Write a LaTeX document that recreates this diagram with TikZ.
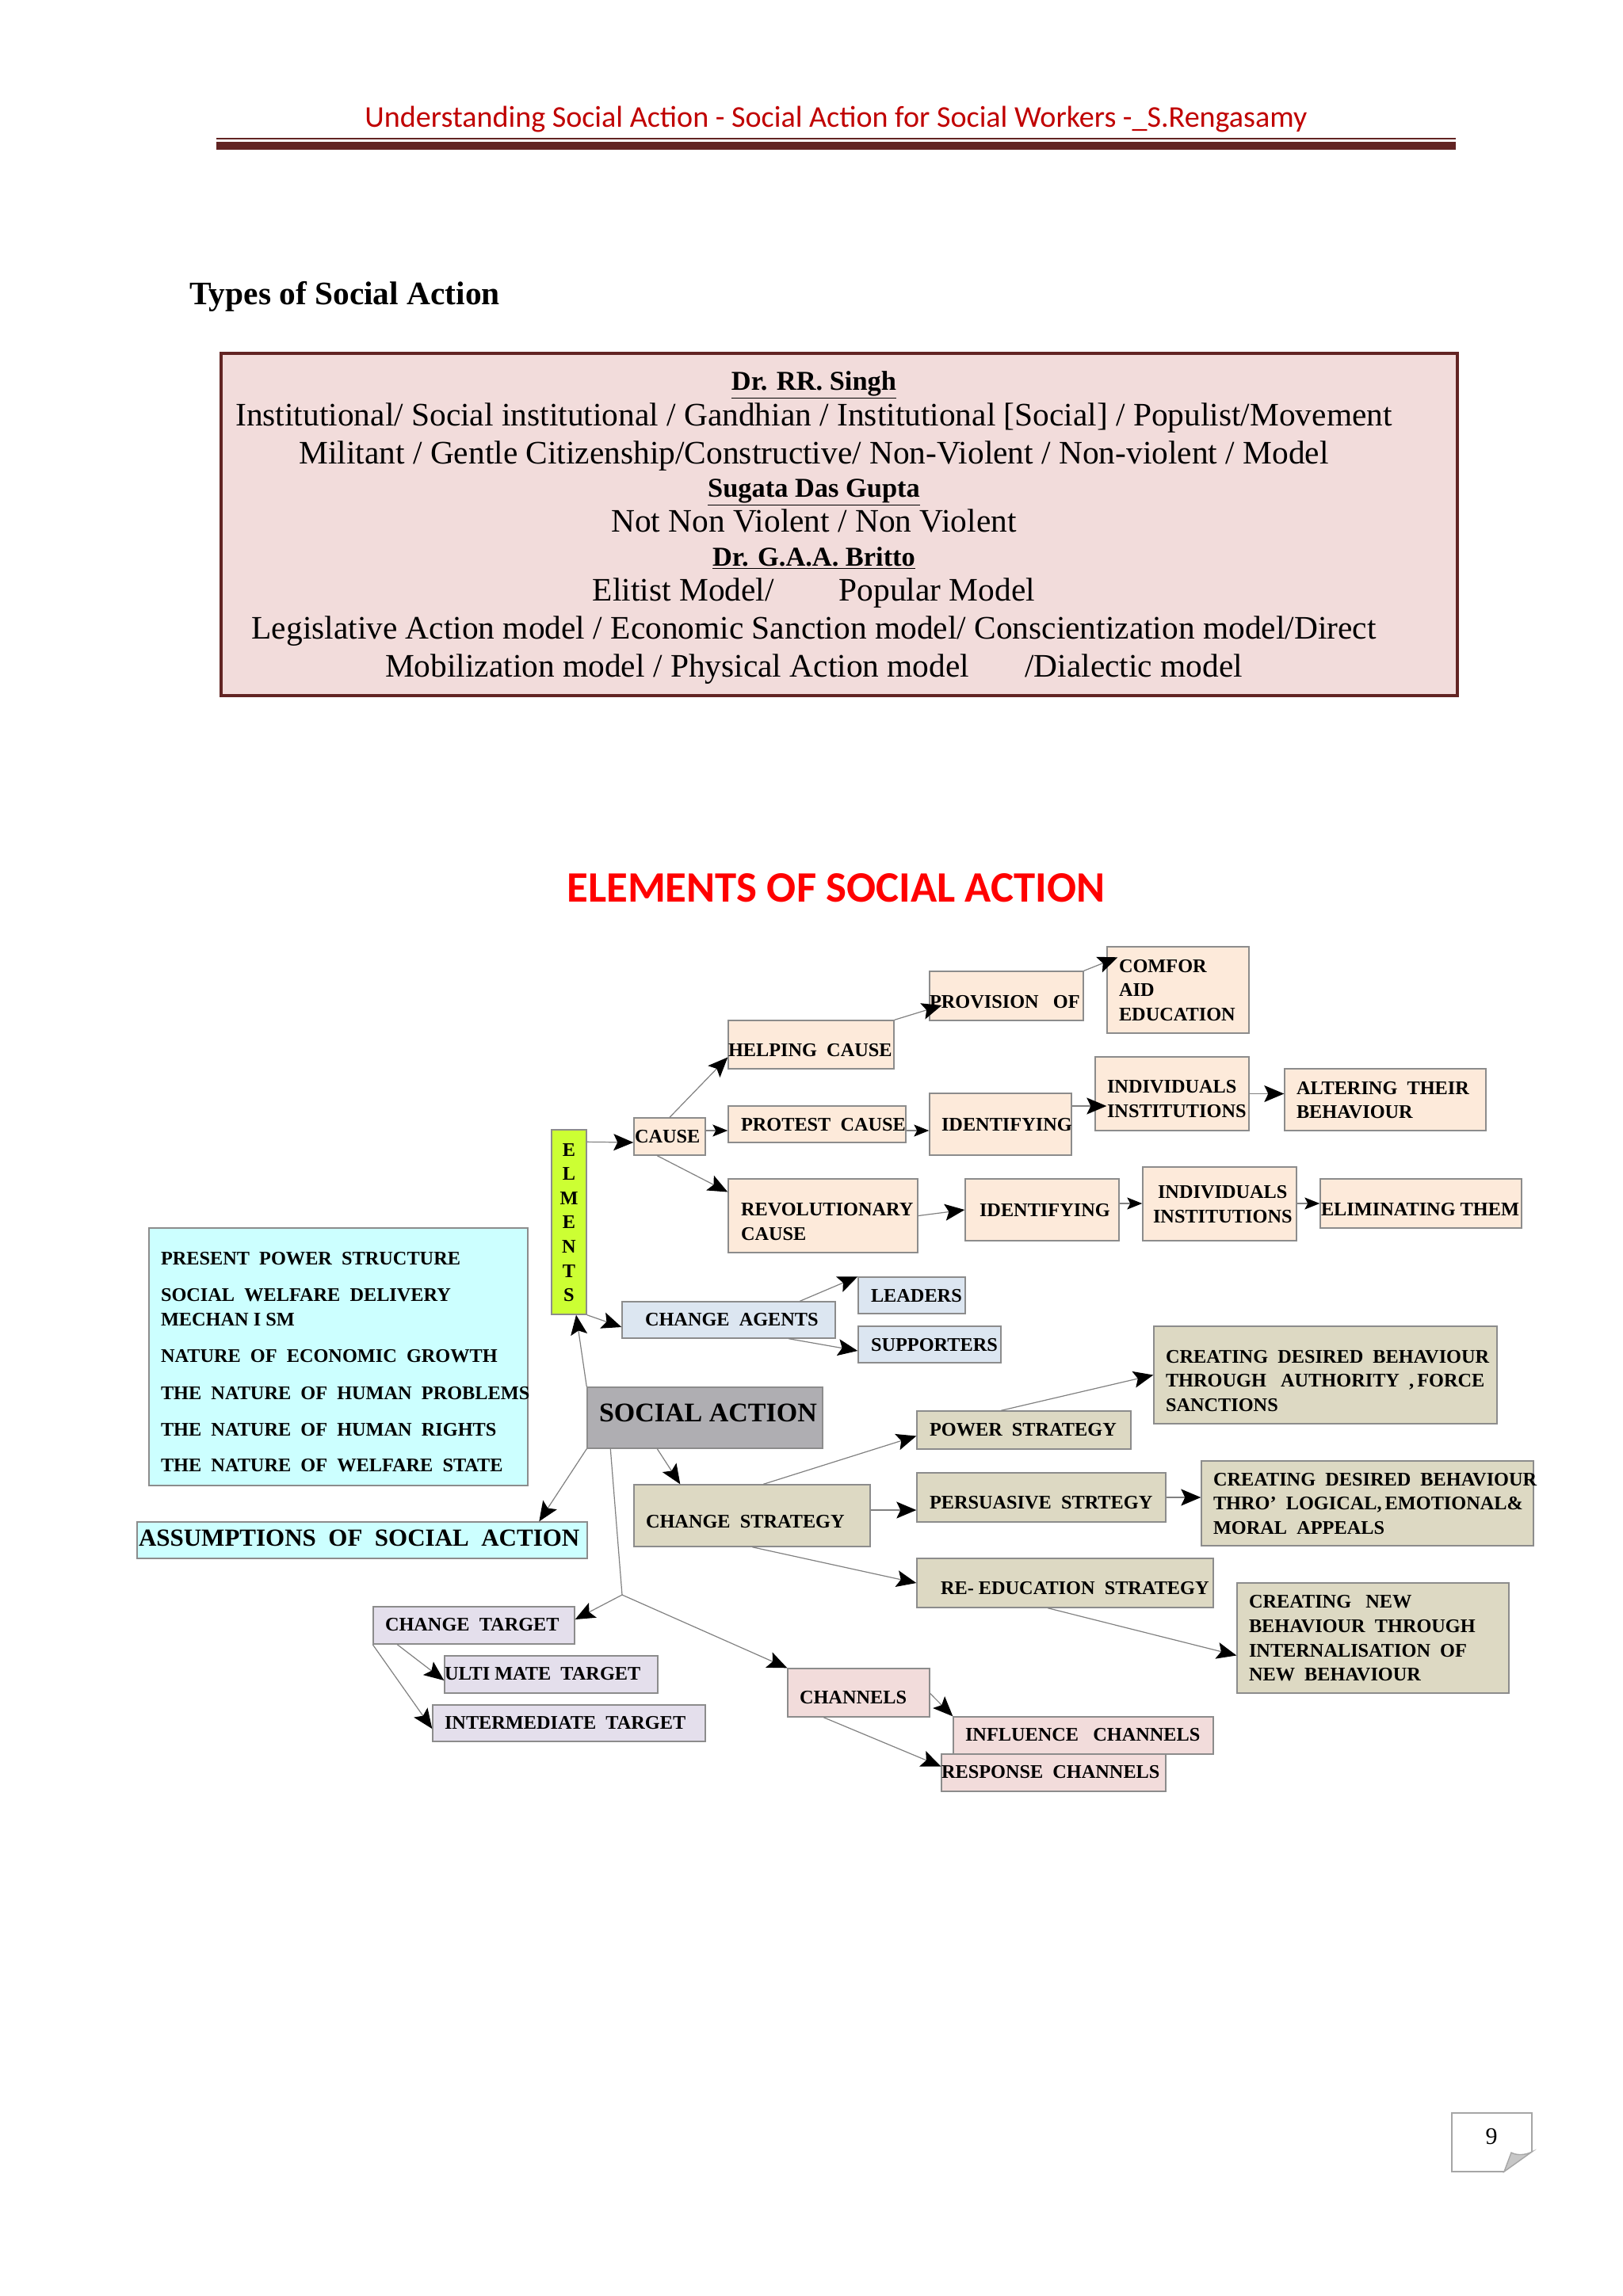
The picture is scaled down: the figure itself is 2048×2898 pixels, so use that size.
\documentclass[tikz,border=0pt]{standalone}
\usepackage{fontspec}
\setmainfont{Liberation Serif}
\newfontfamily\calib{Carlito}
\usetikzlibrary{arrows.meta}
\definecolor{maroon}{HTML}{622423}
\definecolor{hdrred}{HTML}{C00000}
\definecolor{pinkbg}{HTML}{F2DCDB}
\definecolor{peach}{HTML}{FDEADA}
\definecolor{paleblue}{HTML}{DCE6F1}
\definecolor{olive}{HTML}{DDD9C3}
\definecolor{cyanbg}{HTML}{CCFFFF}
\definecolor{lilac}{HTML}{E4DFEC}
\definecolor{greybox}{HTML}{AFAEB2}
\definecolor{lime}{HTML}{CCFF33}
\definecolor{edgeline}{HTML}{808080}
\definecolor{boxline}{HTML}{8C8C8C}
\tikzset{
  sbox/.style={draw=boxline,line width=.7pt,inner sep=0pt,text=black,font=\fontsize{12.15}{15.3}\selectfont\bfseries},
  conn/.style={draw=edgeline,line width=.6pt,-{Stealth[length=12.5pt,width=10.5pt,inset=2.5pt,black]}},
  shortconn/.style={draw=edgeline,line width=.6pt,-{Stealth[length=9.5pt,width=7.5pt,inset=2pt,black]}},
  plainconn/.style={draw=edgeline,line width=.6pt},
  headtext/.style={anchor=base,inner sep=0pt,font=\fontsize{17.2}{21}\selectfont\bfseries},
  bodytext/.style={anchor=base,inner sep=0pt,font=\fontsize{20.7}{25}\selectfont},
}
% name x1 y1 x2 y2 fill inset dy text
\newcommand\bx[9]{%
  \pgfmathsetmacro\bw{(#4-#2)*0.5}%
  \pgfmathsetmacro\bh{(#5-#3)*0.5}%
  \pgfmathsetmacro\bi{(#7)*0.5}%
  \pgfmathsetmacro\br{-4.1-(#8)*0.5}%
  \node[sbox,fill=#6,minimum width=\bw pt,minimum height=\bh pt] (#1) at ({(#2+#4)/2},{(#3+#5)/2})
    {\makebox[\bw pt][l]{\hspace{\bi pt}\raisebox{\br pt}[0pt][0pt]{\begin{tabular}{@{}l@{}}#9\end{tabular}}}};%
}
\newcommand\wg{\hspace{.5em}}
\newcommand\vl[1]{\makebox[12pt]{#1}}
\begin{document}
\begin{tikzpicture}[x=0.5pt,y=-0.5pt]
\useasboundingbox (0,0) rectangle (2048,2898);
\fill[white] (0,0) rectangle (2048,2898);
% header
\node[anchor=base,inner sep=0pt,text=hdrred,font=\calib\fontsize{19.05}{24}\selectfont] (hdr) at (1055,160) {Understanding Social Action - Social Action for Social Workers -\_S.Rengasamy};
\fill[maroon] (273,174) rectangle (1837,176);
\fill[maroon] (273,178.5) rectangle (1837,189);
\node[anchor=base west,inner sep=0pt,font=\fontsize{20.7}{26}\selectfont\bfseries] (types) at (239,384) {Types of Social Action};
% top box
\node[draw=maroon,line width=2pt,fill=pinkbg,minimum width=780pt,minimum height=216pt,inner sep=0pt] (topbox) at (1058.5,662) {};
\node[headtext] (t1) at (1027,492) {\underline{Dr. RR. Singh}};
\node[bodytext] (t2) at (1027,537) {Institutional/ Social institutional / Gandhian / Institutional [Social] / Populist/Movement};
\node[bodytext] (t3) at (1027,585) {Militant / Gentle Citizenship/Constructive/ Non-Violent / Non-violent / Model};
\node[headtext] (t4) at (1027,627) {\underline{Sugata Das Gupta}};
\node[bodytext] (t5) at (1027,671) {Not Non Violent / Non Violent};
\node[headtext] (t6) at (1027,714) {\underline{Dr. G.A.A. Britto}};
\node[bodytext] (t7) at (1027,758) {Elitist Model/\hspace{41pt}Popular Model};
\node[bodytext] (t8) at (1027,806) {Legislative Action model / Economic Sanction model/ Conscientization model/Direct};
\node[bodytext] (t9) at (1027,854) {Mobilization model / Physical Action model\hspace{35pt}/Dialectic model};
% title
\node[anchor=base,inner sep=0pt,text=red,font=\calib\bfseries\fontsize{27.4}{32}\selectfont] (title) at (1055,1138) {ELEMENTS OF SOCIAL ACTION};
% boxes
\bx{elem}{696}{1426}{740}{1659}{lime}{10}{0}{\vl{E}\\\vl{L}\\\vl{M}\\\vl{E}\\\vl{N}\\\vl{T}\\\vl{S}}
\bx{cause}{800}{1411}{890}{1458}{peach}{1}{0}{CAUSE}
\bx{helping}{919}{1288}{1128}{1349}{peach}{0}{7}{HELPING\wg CAUSE}
\bx{prov}{1173}{1226}{1367}{1288}{peach}{0}{7}{PROVISION\wg\ OF}
\bx{comfor}{1397}{1195}{1576}{1304}{peach}{15}{0}{COMFOR\\AID\\EDUCATION}
\bx{protest}{919}{1396}{1143}{1442}{peach}{16}{0}{PROTEST\wg CAUSE}
\bx{identa}{1173}{1380}{1352}{1458}{peach}{15}{0}{IDENTIFYING}
\bx{indiva}{1382}{1334}{1576}{1427}{peach}{15}{6}{INDIVIDUALS\\INSTITUTIONS}
\bx{altering}{1621}{1349}{1875}{1427}{peach}{15}{0}{ALTERING\wg THEIR\\BEHAVIOUR}
\bx{revol}{919}{1488}{1158}{1581}{peach}{16}{7}{REVOLUTIONARY\\CAUSE}
\bx{identb}{1218}{1488}{1412}{1566}{peach}{18}{0}{IDENTIFYING}
\bx{indivb}{1442}{1473}{1636}{1566}{peach}{13}{0}{\hspace{3pt}INDIVIDUALS\\INSTITUTIONS}
\bx{elim}{1666}{1488}{1920}{1550}{peach}{1}{7}{ELIMINATING THEM}
\bx{agents}{785}{1643}{1054}{1689}{paleblue}{29}{-1}{CHANGE\wg AGENTS}
\bx{leaders}{1083}{1612}{1218}{1658}{paleblue}{16}{0}{LEADERS}
\bx{supp}{1083}{1674}{1263}{1720}{paleblue}{16}{0}{SUPPORTERS}
\bx{assumplist}{188}{1550}{666}{1875}{cyanbg}{15}{6}{PRESENT\wg POWER\wg STRUCTURE\\[7.7pt]SOCIAL\wg WELFARE\wg DELIVERY\\MECHAN I SM\\[8pt]NATURE\wg OF\wg ECONOMIC\wg GROWTH\\[8pt]THE\wg NATURE\wg OF\wg HUMAN\wg PROBLEMS\\[7.7pt]THE\wg NATURE\wg OF\wg HUMAN\wg RIGHTS\\[7pt]THE\wg NATURE\wg OF\wg WELFARE\wg STATE}
\bx{social}{741}{1751}{1038}{1828}{greybox}{15}{-4}{\fontsize{17}{20}\selectfont SOCIAL ACTION}
\bx{strategy}{800}{1874}{1098}{1952}{olive}{15}{7}{CHANGE\wg STRATEGY}
\bx{assump}{173}{1921}{741}{1967}{cyanbg}{2}{-1}{\fontsize{15.5}{18}\selectfont ASSUMPTIONS\wg OF\wg SOCIAL\wg ACTION}
\bx{target}{471}{2028}{725}{2075}{lilac}{15}{-1}{CHANGE\wg TARGET}
\bx{ultimate}{561}{2090}{830}{2137}{lilac}{0}{-1}{ULTI MATE\wg TARGET}
\bx{inter}{546}{2152}{890}{2198}{lilac}{15}{-1}{INTERMEDIATE\wg TARGET}
\bx{channels}{994}{2106}{1173}{2167}{pinkbg}{15}{6}{CHANNELS}
\bx{power}{1157}{1781}{1427}{1829}{olive}{16}{-1}{POWER\wg STRATEGY}
\bx{persu}{1157}{1859}{1471}{1921}{olive}{16}{6}{PERSUASIVE\wg STRTEGY}
\bx{reed}{1157}{1967}{1531}{2029}{olive}{30}{6}{RE- EDUCATION\wg STRATEGY}
\bx{creata}{1456}{1674}{1889}{1797}{olive}{15}{7}{CREATING\wg DESIRED\wg BEHAVIOUR\\THROUGH\wg\ AUTHORITY\wg ,\,FORCE\\SANCTIONS}
\bx{creatb}{1516}{1844}{1935}{1951}{olive}{15}{0}{CREATING\wg DESIRED\wg BEHAVIOUR\\THRO’\wg LOGICAL,\,EMOTIONAL\&\\MORAL\wg APPEALS}
\bx{creatc}{1561}{1998}{1904}{2137}{olive}{15}{0}{CREATING\wg\ NEW\\BEHAVIOUR\wg THROUGH\\INTERNALISATION\wg OF\\NEW\wg BEHAVIOUR}
\bx{influence}{1203}{2167}{1531}{2214}{pinkbg}{15}{-1}{INFLUENCE\wg\ CHANNELS}
\bx{response}{1188}{2214}{1471}{2261}{pinkbg}{0}{-1}{RESPONSE\wg CHANNELS}
% connectors
\coordinate (junction) at (785,2013);
\draw[conn] ([shift={(0,16)}]elem.north east) -- ([shift={(0,7.5)}]cause.west);
\draw[conn] (cause.north) -- ([shift={(0,16)}]helping.west);
\draw[shortconn] ([shift={(0,-7.5)}]cause.east) -- ([shift={(0,8)}]protest.west);
\draw[conn] ([shift={(30,0)}]cause.south west) -- ([shift={(0,-30)}]revol.west);
\draw[conn] (helping.north east) -- ([shift={(16,12)}]prov.west);
\draw[conn] (prov.north east) -- ([shift={(14,14)}]comfor.north west);
\draw[shortconn] ([shift={(0,8)}]protest.east) -- ([shift={(0,8)}]identa.west);
\draw[conn] ([shift={(0,-23)}]identa.east) -- ([shift={(15,15.5)}]indiva.west);
\draw[conn] (indiva.east) -- ([shift={(0,-7.5)}]altering.west);
\draw[conn] (revol.east) -- (identb.west);
\draw[shortconn] ([shift={(0,-8)}]identb.east) -- ([shift={(0,-0.5)}]indivb.west);
\draw[shortconn] ([shift={(0,-0.5)}]indivb.east) -- (elim.west);
\draw[conn] (elem.south east) -- ([shift={(0,9)}]agents.west);
\draw[conn] ([shift={(225,0)}]agents.north west) -- (leaders.north west);
\draw[conn] ([shift={(211,0)}]agents.south west) -- ([shift={(0,8)}]supp.west);
\draw[conn] (social.north west) -- ([shift={(9,0)}]elem.south);
\draw[conn] (social.south west) -- ([shift={(508,0)}]assump.north west);
\draw[conn] ([shift={(89,0)}]social.south west) -- ([shift={(59,0)}]strategy.north west);
\draw[plainconn] ([shift={(30,0)}]social.south west) -- (junction);
\draw[conn] (junction) -- ([shift={(0,-7.5)}]target.east);
\draw[conn] (junction) -- (channels.north west);
\draw[conn] ([shift={(31,0)}]target.south west) -- ([shift={(0,7.5)}]ultimate.west);
\draw[conn] (target.south west) -- ([shift={(0,7)}]inter.west);
\draw[conn] ([shift={(164,0)}]strategy.north west) -- ([shift={(0,7.5)}]power.west);
\draw[conn] ([shift={(0,-7)}]strategy.east) -- ([shift={(0,16)}]persu.west);
\draw[conn] ([shift={(150,0)}]strategy.south west) -- (reed.west);
\draw[conn] ([shift={(107,0)}]power.north west) -- (creata.west);
\draw[conn] (persu.east) -- ([shift={(0,-7.5)}]creatb.west);
\draw[conn] ([shift={(166,0)}]reed.south west) -- ([shift={(0,22)}]creatc.west);
\draw[conn] ([shift={(0,1)}]channels.east) -- (influence.north west);
\draw[conn] ([shift={(46,0)}]channels.south west) -- ([shift={(0,-8)}]response.west);
% page number tab
\draw[draw=black!35,line width=.8pt] (1898,2741) -- (1832,2741) -- (1832,2667) -- (1933,2667) -- (1933,2716);
\draw[draw=black!35,line width=.7pt,fill=black!22] (1898,2741) -- (1907,2717) .. controls (1915,2721) and (1925,2720) .. (1933,2716) -- cycle;
\node[inner sep=0pt,font=\fontsize{15}{18}\selectfont] (pagenum) at (1882,2697) {9};
\end{tikzpicture}
\end{document}
